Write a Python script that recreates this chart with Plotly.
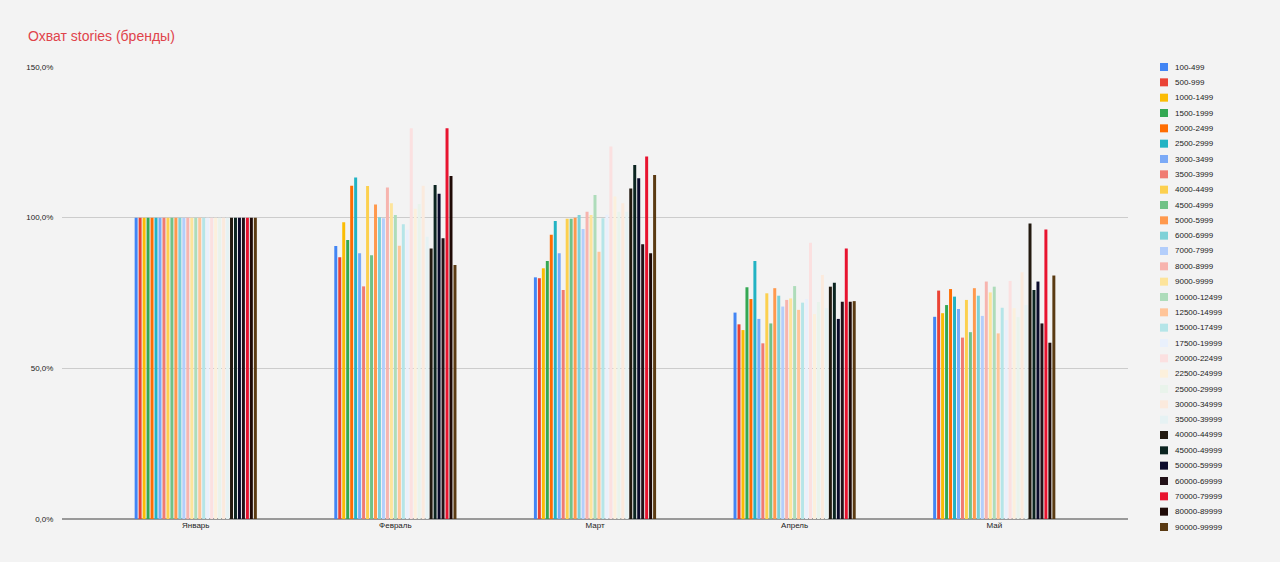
import plotly.graph_objects as go

months = ['Январь', 'Февраль', 'Март', 'Апрель', 'Май']
bands = ['100-499', '500-999', '1000-1499', '1500-1999', '2000-2499', '2500-2999',
         '3000-3499', '3500-3999', '4000-4499', '4500-4999', '5000-5999', '6000-6999',
         '7000-7999', '8000-8999', '9000-9999', '10000-12499', '12500-14999', '15000-17499',
         '17500-19999', '20000-22499', '22500-24999', '25000-29999', '30000-34999',
         '35000-39999', '40000-44999', '45000-49999', '50000-59999', '60000-69999',
         '70000-79999', '80000-89999', '90000-99999']

# охват в % относительно января
jan = [100.0] * 31
feb = [90.6, 86.9, 98.5, 92.6, 110.6, 113.3, 88.2, 77.2, 110.5, 87.5, 104.4, 100.1, 99.8, 110.0,
       104.8, 100.9, 90.7, 97.8, 96.0, 129.7, 103.0, 104.5, 110.6, 93.7, 89.8, 110.8, 107.9, 93.2,
       129.7, 113.8, 84.3]
mar = [80.2, 79.9, 83.2, 85.6, 94.3, 98.9, 88.2, 76.0, 99.6, 99.6, 100.0, 100.9, 96.2, 102.0,
       100.9, 107.5, 88.7, 99.8, 101.0, 123.6, 107.0, 102.0, 104.8, 102.0, 109.7, 117.5, 113.1,
       91.2, 120.3, 88.2, 114.2]
apr = [68.5, 64.6, 62.7, 76.9, 73.0, 85.6, 66.4, 58.3, 74.9, 64.9, 76.6, 74.1, 70.5, 72.7, 73.2,
       77.3, 69.4, 71.8, 73.0, 91.7, 68.0, 72.0, 81.0, 70.0, 77.1, 78.4, 66.4, 72.1, 89.8, 72.1, 72.3]
may = [67.1, 75.8, 68.3, 71.0, 76.3, 73.8, 69.7, 60.2, 72.7, 62.0, 76.6, 74.1, 67.4, 78.8, 75.2,
       77.1, 61.6, 70.1, 66.0, 79.0, 70.0, 67.0, 81.9, 71.0, 98.1, 76.0, 78.8, 64.9, 96.1, 58.5, 80.8]

y_ticks = [0, 50, 100, 150]
y_tick_labels = ['0,0%', '50,0%', '100,0%', '150,0%']

colors = ['#4285f4', '#ea4335', '#fbbc04', '#34a853', '#ff6d01', '#22b3c3', '#7baaf7', '#f07b72',
          '#fcd04f', '#71c287', '#ff994d', '#7ed1d7', '#b3cefb', '#f7b4ae', '#fde49b', '#aedcba',
          '#ffc599', '#b5e5e8', '#e9f0fc', '#fbe0e0', '#fcf0dc', '#e9f3eb', '#fbeadd', '#e6f2f3',
          '#231a10', '#0b2420', '#0b0b2c', '#221118', '#e8132f', '#1f0a06', '#5a3a12']

BG = '#f3f3f3'
FONT = 'Liberation Sans, Arial, sans-serif'
L, R, T, B = 62, 152, 67, 43
W, H = 1280, 562

fig = go.Figure()
for i, band in enumerate(bands):
    vals = [jan[i], feb[i], mar[i], apr[i], may[i]]
    fig.add_trace(go.Bar(x=months, y=vals, name=band, marker=dict(color=colors[i], line=dict(width=0)),
                         showlegend=False))

# легенда вручную: у plotly минимальная высота строки слишком большая для 31 пункта
pw, ph = W - L - R, H - T - B
def px_x(x):
    return (x - L) / pw
def px_y(y):
    return (H - B - y) / ph

step = (527 - 67) / (len(bands) - 1)
shapes = []
annotations = []
for i, band in enumerate(bands):
    cy = 67 + i * step
    shapes.append(dict(type='rect', xref='paper', yref='paper', x0=px_x(1160), x1=px_x(1168),
                       y0=px_y(cy + 4), y1=px_y(cy - 4), fillcolor=colors[i], line=dict(width=0)))
    annotations.append(dict(xref='paper', yref='paper', x=px_x(1173), y=px_y(cy), text=band,
                            showarrow=False, xanchor='left', yanchor='middle',
                            font=dict(size=8, color='#222222', family=FONT)))

fig.update_layout(
    title=dict(text='Охват stories (бренды)', x=28 / W, xanchor='left', y=1 - 36 / H, yanchor='middle',
               font=dict(size=14, color='#e0434b', family=FONT)),
    barmode='group', bargap=0.383, bargroupgap=0.25,
    paper_bgcolor=BG, plot_bgcolor=BG,
    width=W, height=H, margin=dict(l=L, r=R, t=T, b=B),
    font=dict(family=FONT, size=8, color='#222222'),
    xaxis=dict(type='category', range=[-0.67, 4.67], showgrid=False, ticks='', tickfont=dict(size=8),
               showline=False),
    yaxis=dict(range=[0, 150], tickvals=y_ticks, ticktext=y_tick_labels, showgrid=True,
               gridcolor='#cccccc', gridwidth=1, zeroline=True, zerolinecolor='#999999', zerolinewidth=1.5,
               ticks='outside', ticklen=6, tickcolor=BG, tickfont=dict(size=8)),
    shapes=shapes, annotations=annotations,
)

fig.write_html('out.html', config={'displayModeBar': False},
               post_script="document.body.style.margin='0';document.body.style.background='#f3f3f3';")
